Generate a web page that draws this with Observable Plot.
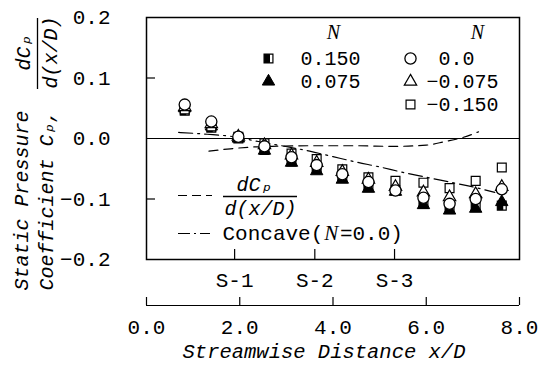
<!DOCTYPE html>
<html><head><meta charset="utf-8">
<script src="https://cdn.jsdelivr.net/npm/d3@7"></script>
<script src="https://cdn.jsdelivr.net/npm/@observablehq/plot@0.6"></script>
<style>body{margin:0;background:#fff}</style>
</head><body><div id="chart"></div>
<script>
// ---- data ----
const xPos = [0.82, 1.39, 1.97, 2.53, 3.11, 3.65, 4.2, 4.76, 5.34, 5.94, 6.5, 7.06, 7.62];
const cpN0 = [0.056, 0.028, 0.003, -0.013, -0.031, -0.044, -0.059, -0.072, -0.086, -0.098, -0.108, -0.100, -0.084];
const cpNm150 = [0.048, 0.020, 0.003, -0.008, -0.025, -0.034, -0.051, -0.064, -0.070, -0.073, -0.082, -0.070, -0.048];
const cpNm075 = [0.052, 0.024, 0.003, -0.011, -0.028, -0.040, -0.055, -0.068, -0.080, -0.089, -0.097, -0.092, -0.080];
const cpN075 = [0.050, 0.020, 0.000, -0.020, -0.040, -0.054, -0.068, -0.083, -0.088, -0.110, -0.119, -0.116, -0.105];
const cpN150 = [0.046, 0.018, 0.000, -0.019, -0.038, -0.050, -0.064, -0.080, -0.086, -0.108, -0.116, -0.113, -0.111];
const dcpX = [1.34, 1.8, 2.3, 2.7, 3.5, 4.5, 5.3, 6.0, 6.4, 6.8, 7.12];
const dcpY = [-0.021, -0.017, -0.014, -0.013, -0.012, -0.012, -0.013, -0.011, -0.005, 0.002, 0.011];
const ccX = [0.69, 1.3, 1.87, 2.4, 2.9, 3.5, 4.0, 4.5, 5.0, 5.5, 6.0, 6.5, 7.0, 7.47];
const ccY = [0.010, 0.007, 0.003, -0.005, -0.012, -0.021, -0.030, -0.039, -0.047, -0.056, -0.064, -0.072, -0.080, -0.089];
const xTicks = [0, 2, 4, 6, 8];
const xTickLabels = ["0.0", "2.0", "4.0", "6.0", "8.0"];
const yTicks = [0.2, 0.1, 0, -0.1, -0.2];
const yTickLabels = ["0.2", "0.1", "0.0", "\u22120.1", "\u22120.2"];
const sectionX = [1.89, 3.61, 5.32];
const sectionLabels = ["S-1", "S-2", "S-3"];
const legLeft = [" 0.150", " 0.075"];
const legRight = [" 0.0", "\u22120.075", "\u22120.150"];

// ---- build ----
const rows = v => xPos.map((x, i) => ({x, y: v[i]}));
const dcpRows = dcpX.map((x, i) => ({x, y: dcpY[i]}));
const ccRows = ccX.map((x, i) => ({x, y: ccY[i]}));

const MONO = "Liberation Mono, Courier New, monospace";
const SERIF = "Liberation Serif, Times New Roman, serif";
const FS = 21, LFS = 20;
const halfSquare = {draw(ctx, size) {const w = Math.sqrt(size); ctx.moveTo(-w/2, -w/2); ctx.lineTo(w/6, -w/2); ctx.lineTo(w/6, w/2); ctx.lineTo(-w/2, w/2); ctx.closePath();}};

const W = 539, H = 370, mL = 146, mR = 20, mT = 17, mB = 111;
const fw = W - mL - mR, fh = H - mT - mB;
const xs = d3.scaleLinear([0, 8], [mL, W - mR]);

const sym = {
  s150o: {symbol: "square", r: 5, fill: "white", stroke: "black", strokeWidth: 1.2},
  s150f: {symbol: halfSquare, r: 5, fill: "black"},
  s075: {symbol: "triangle", r: 4.6, fill: "black", stroke: "black", strokeWidth: 1},
  sm150: {symbol: "square", r: 5, fill: "white", stroke: "black", strokeWidth: 1.2},
  sm075: {symbol: "triangle", r: 4.6, fill: "white", stroke: "black", strokeWidth: 1.2},
  s0: {symbol: "circle", r: 5.6, fill: "white", stroke: "black", strokeWidth: 1.3}
};
const legDot = (s, px, py) => Plot.dot([0], {frameAnchor: "top-left", dx: px - mL, dy: py - mT, ...s});
const legText = (t, px, py, extra = {}) => Plot.text([t], {frameAnchor: "top-left", dx: px - mL, dy: py - mT, textAnchor: "start", lineAnchor: "middle", fontFamily: MONO, fontSize: LFS, ...extra});
const rotText = (t, px, py, anchor, extra = {}) => Plot.text([t], {frameAnchor: "top-left", dx: px - mL, dy: py - mT, rotate: -90, textAnchor: anchor, lineAnchor: "middle", fontFamily: MONO, fontStyle: "italic", fontSize: 20, ...extra});
const hSeg = (x1, x2, py, extra = {}) => Plot.ruleY([-0.2], {x1: xs.invert(x1), x2: xs.invert(x2), dy: py - (H - mB), stroke: "black", strokeWidth: 1.2, ...extra});

const rowsY = [58, 81, 104];

const marks = [
  Plot.ruleY([0], {stroke: "black", strokeWidth: 1}),
  Plot.tickY([0.1, -0.1], {y: d => d, insetRight: fw - 9, stroke: "black", strokeWidth: 1.2}),
  Plot.tickX(sectionX, {x: d => d, insetTop: fh - 10, stroke: "black", strokeWidth: 1.2}),
  Plot.text(sectionLabels, {x: (d, i) => sectionX[i], frameAnchor: "bottom", dy: 27, text: d => d, fontFamily: MONO, fontSize: FS}),
  // bracket x axis
  Plot.ruleY([-0.2], {x1: 0, x2: 8, dy: 46, stroke: "black", strokeWidth: 1.2}),
  Plot.tickX(xTicks, {x: d => d, insetTop: fh - 8, dy: 46, stroke: "black", strokeWidth: 1.2}),
  Plot.text(xTickLabels, {x: (d, i) => xTicks[i], frameAnchor: "bottom", dy: 74, text: d => d, fontFamily: MONO, fontSize: FS}),
  Plot.text(["Streamwise Distance x/D"], {frameAnchor: "bottom", dy: 98, dx: -9, fontFamily: MONO, fontStyle: "italic", fontSize: 20.5}),
  Plot.text(yTickLabels, {y: (d, i) => yTicks[i], frameAnchor: "left", dx: -36, textAnchor: "end", text: d => d, fontFamily: MONO, fontSize: FS}),
  // y title
  rotText("Static Pressure", 21, 290, "start"),
  rotText("Coefficient C\u209a,", 46, 290, "start"),
  rotText("dC\u209a", 23, 52, "middle"),
  rotText("d(x/D)", 50, 52, "middle"),
  Plot.tickX([0], {x: d => d, dx: 37 - mL, insetTop: 1, insetBottom: fh - 72, stroke: "black", strokeWidth: 1.3}),
  // lines
  Plot.line(dcpRows, {x: "x", y: "y", stroke: "black", strokeWidth: 1.2, strokeDasharray: "9,6", curve: "monotone-x"}),
  Plot.line(ccRows, {x: "x", y: "y", stroke: "black", strokeWidth: 1.2, strokeDasharray: "14,5,2,5", curve: "monotone-x"}),
  // data
  Plot.dot(rows(cpN150), {x: "x", y: "y", ...sym.s150o}),
  Plot.dot(rows(cpN150), {x: "x", y: "y", ...sym.s150f}),
  Plot.dot(rows(cpN075), {x: "x", y: "y", ...sym.s075}),
  Plot.dot(rows(cpNm150), {x: "x", y: "y", ...sym.sm150}),
  Plot.dot(rows(cpNm075), {x: "x", y: "y", ...sym.sm075}),
  Plot.dot(rows(cpN0), {x: "x", y: "y", ...sym.s0}),
  // legend top
  legText("N", 333, 32, {fontFamily: SERIF, fontStyle: "italic", textAnchor: "middle"}),
  legText("N", 477, 32, {fontFamily: SERIF, fontStyle: "italic", textAnchor: "middle"}),
  legDot(sym.s150o, 268, rowsY[0]), legDot(sym.s150f, 268, rowsY[0]),
  legDot(sym.s075, 268, rowsY[1]),
  ...legLeft.map((t, i) => legText(t, 288, rowsY[i])),
  legDot(sym.s0, 410, rowsY[0]), legDot(sym.sm075, 410, rowsY[1]), legDot(sym.sm150, 410, rowsY[2]),
  ...legRight.map((t, i) => legText(t, 426, rowsY[i])),
  // legend bottom-left
  hSeg(178, 212, 195, {strokeDasharray: "9,5"}),
  legText("dC\u209a", 254, 184, {textAnchor: "middle", fontStyle: "italic"}),
  hSeg(223, 297, 196, {strokeWidth: 1.3}),
  legText("d(x/D)", 260, 208, {textAnchor: "middle", fontStyle: "italic"}),
  hSeg(178, 210, 233, {strokeDasharray: "12,4,2,4"}),
  legText("Concave(", 222, 233, {fontSize: FS}),
  legText("N", 222 + 8 * 0.6 * FS + 1, 233, {fontFamily: SERIF, fontStyle: "italic", fontSize: FS}),
  legText("=0.0)", 222 + 9 * 0.6 * FS + 4, 233, {fontSize: FS}),
  Plot.frame({stroke: "black", strokeWidth: 1.5})
];

const chart = Plot.plot({
  width: W, height: H,
  marginLeft: mL, marginRight: mR, marginTop: mT, marginBottom: mB,
  x: {domain: [0, 8], axis: null},
  y: {domain: [-0.2, 0.2], axis: null},
  style: {background: "white", color: "black"},
  marks
});
document.getElementById("chart").appendChild(chart);
</script></body></html>
